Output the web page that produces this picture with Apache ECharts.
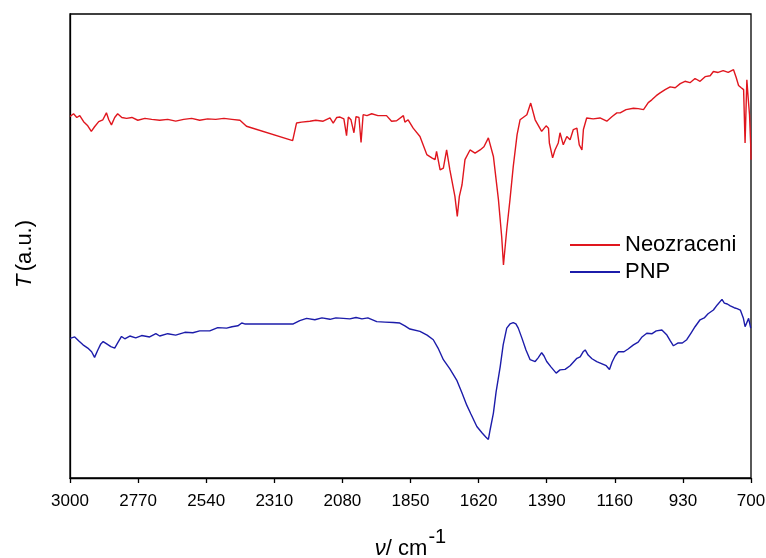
<!DOCTYPE html>
<html>
<head>
<meta charset="utf-8">
<script src="https://cdn.jsdelivr.net/npm/echarts@6/dist/echarts.min.js"></script>
<style>
  html, body { margin: 0; padding: 0; background: #fff; }
  #main { width: 766px; height: 558px; }
</style>
</head>
<body>
<div id="main"></div>
<script>
// wavenumbers (cm-1) and transmittance (a.u.)
const neoWave = [3000, 2988, 2977, 2967, 2954, 2940, 2928, 2917, 2903, 2889, 2877, 2869, 2860, 2849, 2839, 2825, 2809,
  2791, 2771, 2747, 2724, 2697, 2670, 2643, 2616, 2589, 2562, 2535, 2508, 2480, 2453, 2426, 2404, 2248,
  2235, 2218, 2190, 2170, 2145, 2122, 2111, 2099, 2088, 2075, 2066, 2060, 2051, 2041, 2034, 2024, 2017, 2010,
  1997, 1981, 1960, 1931, 1914, 1897, 1874, 1869, 1858, 1841, 1818, 1795, 1778, 1767, 1762, 1750, 1739, 1728,
  1717, 1700, 1692, 1685, 1676, 1666, 1649, 1632, 1615, 1602, 1587, 1570, 1553, 1542, 1536, 1525, 1514, 1503,
  1490, 1480, 1457, 1444, 1429, 1407, 1392, 1384, 1381, 1370, 1362, 1351, 1345, 1334, 1322, 1311, 1300, 1288,
  1280, 1271, 1266, 1255, 1233, 1210, 1187, 1169, 1153, 1142, 1122, 1097, 1081, 1063, 1047, 1035, 1020, 1007,
  990, 973, 956, 939, 923, 906, 889, 872, 855, 838, 827, 811, 794, 777, 759, 750, 742, 733, 725, 720, 714,
  709, 705, 701, 700];
const neoT = [77.9, 78.5, 77.7, 78.1, 76.8, 75.9, 74.7, 75.7, 76.8, 77.2, 78.7, 77.2, 76.1, 77.7, 78.5, 77.7, 77.5,
  77.7, 77.1, 77.5, 77.3, 77.1, 77.3, 76.9, 77.3, 77.5, 77.1, 77.4, 77.3, 77.5, 77.3, 77.1, 75.8, 72.7,
  76.5, 76.7, 76.9, 77.1, 76.9, 77.6, 76.5, 77.7, 77.8, 77.4, 73.8, 77.8, 77.2, 74.4, 77.9, 77.7, 72.3, 78.3,
  78.1, 78.5, 78.1, 78.1, 76.9, 77.0, 78.1, 76.7, 77.2, 75.4, 73.6, 69.7, 69.0, 68.6, 70.4, 66.4, 66.8, 70.7,
  66.4, 60.7, 56.4, 60.7, 63.2, 68.6, 70.7, 70.0, 70.7, 71.4, 73.3, 69.3, 60.0, 52.0, 45.9, 53.5, 60.0, 67.1,
  74.0, 77.2, 78.3, 80.8, 77.2, 74.7, 75.9, 75.4, 72.2, 69.0, 70.7, 72.2, 74.4, 71.8, 73.6, 72.9, 75.1, 75.4,
  71.8, 70.7, 75.1, 77.6, 77.4, 77.6, 76.9, 77.9, 78.7, 78.7, 79.4, 79.7, 79.6, 79.4, 80.9, 81.5, 82.4, 83.0,
  83.7, 84.3, 84.1, 85.0, 85.5, 85.2, 86.1, 85.5, 86.5, 86.7, 87.6, 87.4, 87.8, 87.4, 88.0, 86.3, 84.6, 84.1,
  83.7, 72.2, 85.8, 81.5, 78.3, 71.8, 68.6];

const pnpWave = [3000, 2984, 2971, 2956, 2940, 2927, 2917, 2906, 2896, 2888, 2876, 2862, 2849, 2839, 2826, 2815, 2798,
  2778, 2758, 2731, 2710, 2697, 2670, 2643, 2612, 2585, 2562, 2528, 2501, 2471, 2453, 2433, 2420, 2410, 2246,
  2224, 2201, 2173, 2149, 2122, 2102, 2077, 2055, 2034, 2014, 1994, 1964, 1936, 1908, 1886, 1869, 1852, 1818,
  1794, 1773, 1757, 1739, 1717, 1694, 1676, 1660, 1646, 1626, 1608, 1595, 1587, 1581, 1570, 1561, 1547, 1537,
  1525, 1514, 1503, 1494, 1486, 1474, 1460, 1446, 1429, 1419, 1407, 1399, 1390, 1375, 1358, 1345, 1328, 1311,
  1288, 1277, 1267, 1260, 1250, 1237, 1221, 1203, 1189, 1178, 1169, 1159, 1148, 1129, 1115, 1097, 1081, 1068,
  1052, 1034, 1020, 1001, 984, 973, 962, 946, 932, 917, 902, 889, 872, 858, 845, 827, 814, 798, 790, 780, 770,
  757, 747, 736, 726, 720, 708, 701];
const pnpT = [30.1, 30.4, 29.6, 28.7, 28.0, 27.2, 26.0, 27.6, 28.9, 29.4, 28.9, 28.3, 28.0, 29.1, 30.5, 30.0, 30.6,
  30.2, 30.7, 30.4, 31.1, 30.6, 31.1, 30.8, 31.4, 31.3, 31.7, 31.7, 32.4, 32.3, 32.6, 32.8, 33.4, 33.2, 33.2,
  33.9, 34.4, 34.1, 34.5, 34.2, 34.5, 34.4, 34.3, 34.6, 34.3, 34.5, 33.7, 33.6, 33.5, 33.4, 32.8, 32.1, 31.6,
  30.8, 29.8, 28.0, 25.5, 23.5, 21.1, 18.3, 15.7, 13.8, 11.1, 9.7, 8.8, 8.3, 10.4, 14.0, 18.5, 24.0, 28.7,
  32.3, 33.2, 33.5, 33.2, 32.3, 30.2, 27.6, 25.5, 25.1, 25.9, 27.0, 26.3, 25.1, 23.9, 22.6, 23.3, 23.4, 24.2,
  25.8, 26.1, 27.2, 27.6, 26.5, 25.7, 25.1, 24.6, 24.2, 23.4, 25.0, 26.3, 27.2, 27.2, 27.8, 28.7, 29.3, 30.4,
  31.2, 31.1, 31.7, 31.9, 30.8, 29.6, 28.5, 29.1, 29.1, 29.8, 31.3, 32.6, 34.1, 34.5, 35.4, 36.2, 37.3, 38.5,
  37.7, 37.5, 37.1, 36.7, 36.5, 36.2, 34.5, 32.6, 34.4, 32.3];

const waveStart = 3000;
const waveEnd = 700;
const waveStep = 230;

// axis runs on (3000 - wavenumber) so ticks land on 3000, 2770, ... 700
function toSeries(wave, t) {
  return wave.map((w, i) => [waveStart - w, t[i]]);
}

const chart = echarts.init(document.getElementById('main'), null, { renderer: 'canvas' });

const font = 'Liberation Sans, Arial, sans-serif';

const option = {
  backgroundColor: '#fff',
  animation: false,
  textStyle: { fontFamily: font },
  grid: {
    left: 70, right: 15, top: 14, bottom: 80,
    outerBoundsMode: 'none', containLabel: false,
    show: true, borderColor: '#000', borderWidth: 1.3
  },
  legend: {
    left: 570, top: 234, orient: 'vertical', padding: 0,
    itemWidth: 50, itemHeight: 2, itemGap: 5,
    icon: 'rect',
    textStyle: { fontSize: 22, color: '#000', fontFamily: font },
    data: ['Neozraceni', 'PNP']
  },
  xAxis: {
    type: 'value',
    min: 0, max: waveStart - waveEnd, interval: waveStep,
    splitLine: { show: false },
    axisLine: { lineStyle: { color: '#000', width: 1.3 } },
    axisTick: { inside: false, length: 5, lineStyle: { color: '#000', width: 1.3 } },
    axisLabel: {
      color: '#000', fontSize: 17, margin: 15,
      formatter: v => String(waveStart - v)
    },
    name: '{i|ν}{n|/ cm}{s|-1}',
    nameLocation: 'middle', nameGap: 49,
    nameTextStyle: {
      rich: {
        i: { fontSize: 22, fontStyle: 'italic', color: '#000', fontFamily: font, verticalAlign: 'bottom' },
        n: { fontSize: 22, color: '#000', fontFamily: font, verticalAlign: 'bottom' },
        s: { fontSize: 20, color: '#000', fontFamily: font, verticalAlign: 'bottom', padding: [0, 0, 13, 1] }
      }
    }
  },
  yAxis: {
    type: 'value', min: 0, max: 100,
    axisLine: { show: true, lineStyle: { color: '#000', width: 1.3 } },
    axisTick: { show: false },
    axisLabel: { show: false },
    splitLine: { show: false },
    name: '{i|T} {n|(a.u.)}',
    nameLocation: 'middle', nameGap: 34, nameRotate: 90,
    nameTextStyle: {
      padding: [0, 16, 0, 0],
      rich: {
        i: { fontSize: 22, fontStyle: 'italic', color: '#000', fontFamily: font },
        n: { fontSize: 22, color: '#000', fontFamily: font }
      }
    }
  },
  series: [
    {
      name: 'Neozraceni', type: 'line', data: toSeries(neoWave, neoT),
      symbol: 'none', color: '#e0161e', lineStyle: { width: 1.4 }
    },
    {
      name: 'PNP', type: 'line', data: toSeries(pnpWave, pnpT),
      symbol: 'none', color: '#1c1caa', lineStyle: { width: 1.4 }
    }
  ]
};

chart.setOption(option);
</script>
</body>
</html>
